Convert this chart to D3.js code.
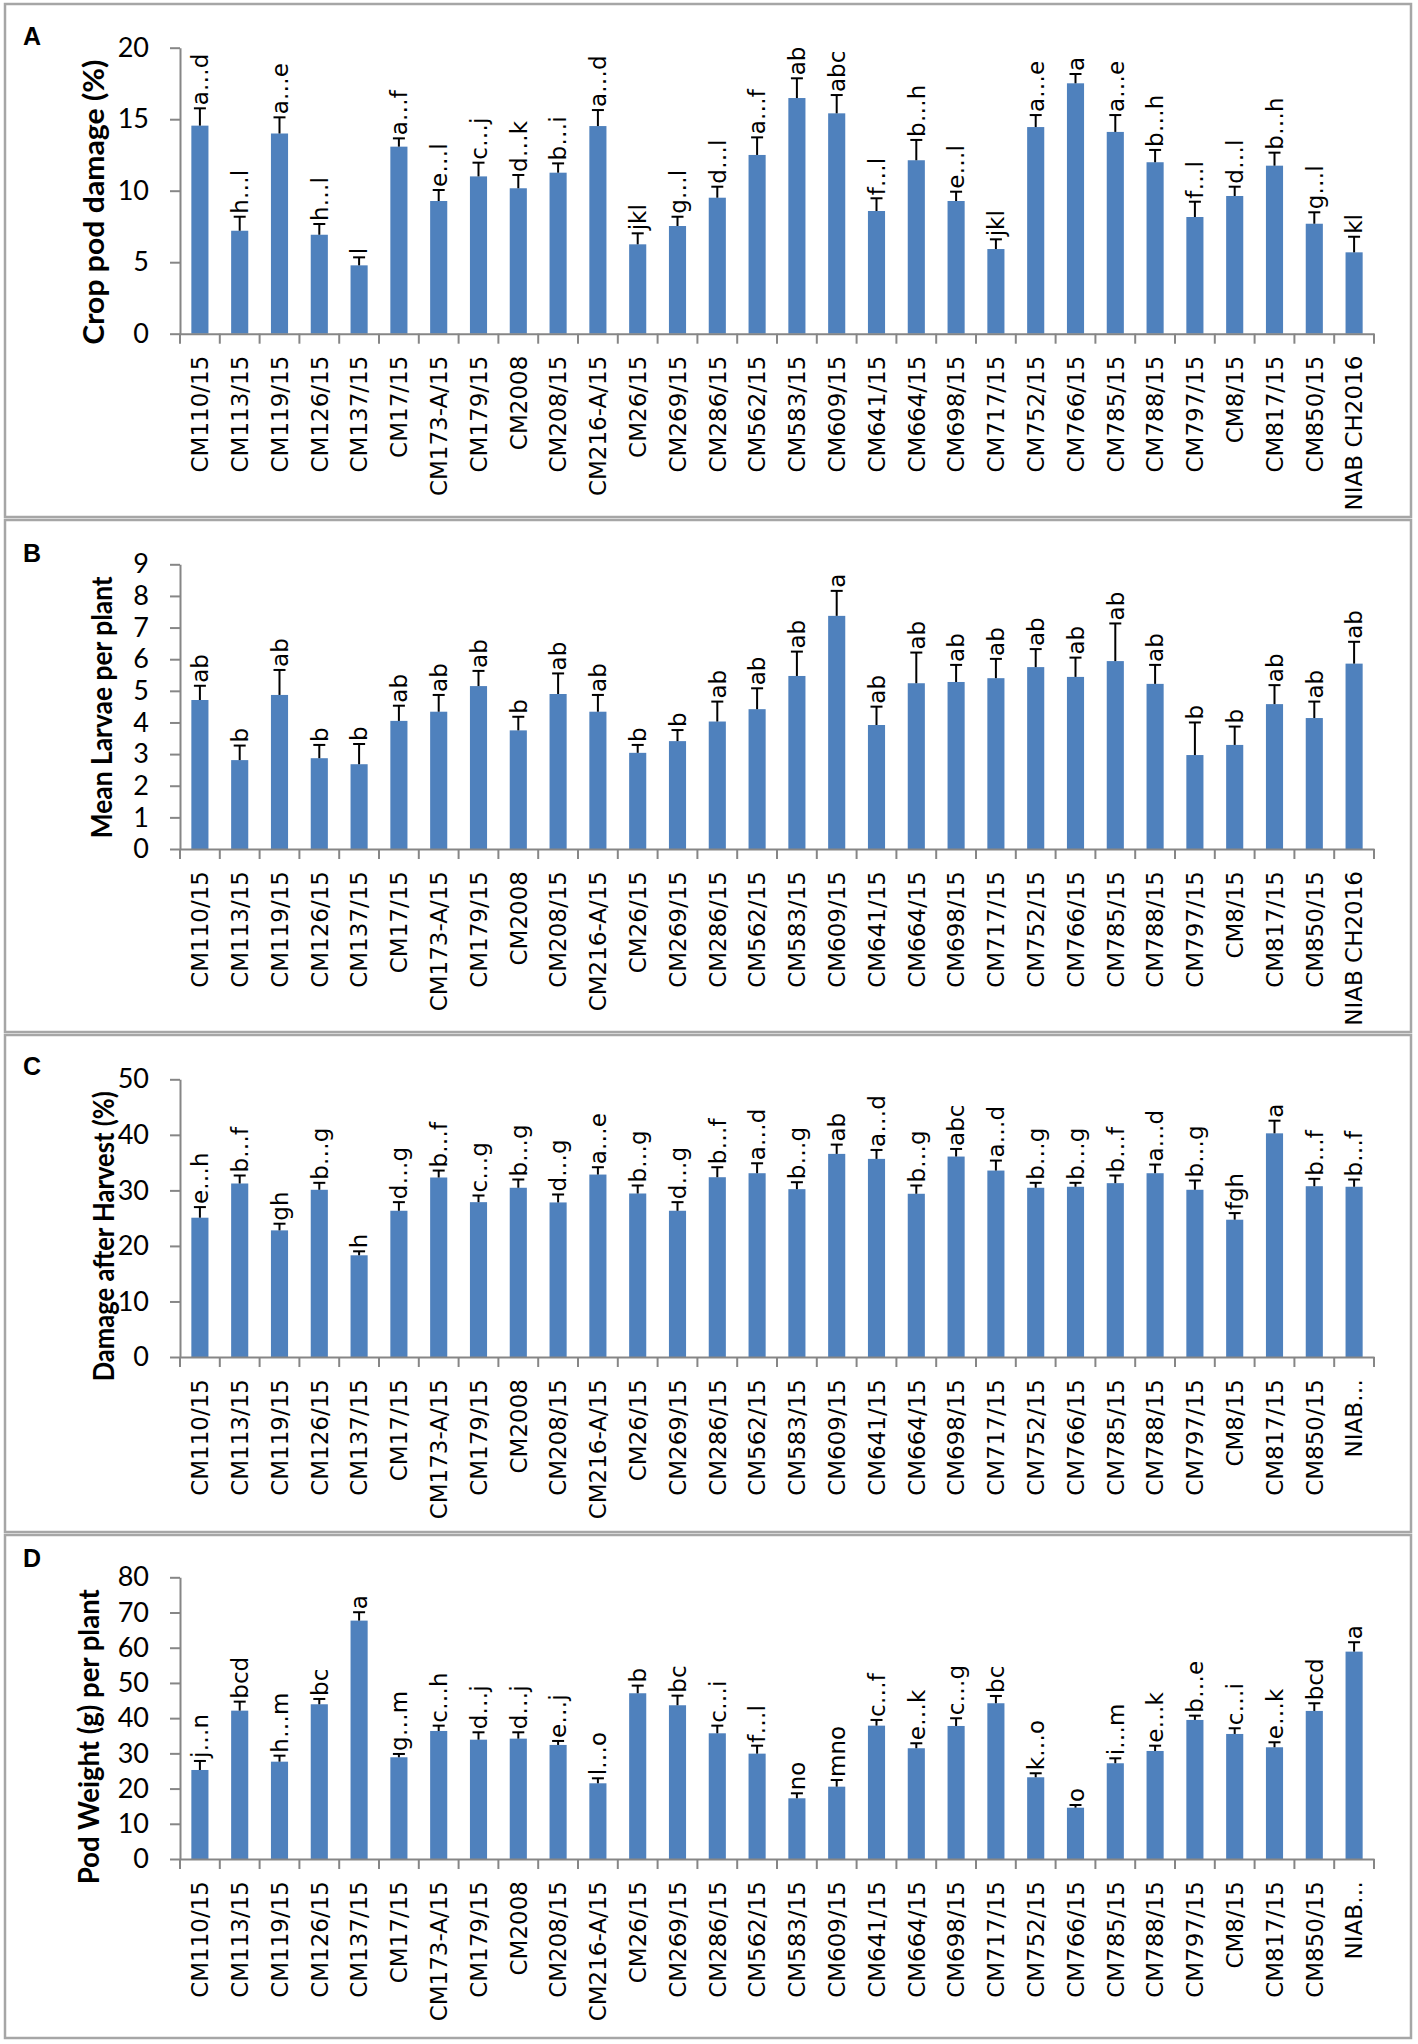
<!DOCTYPE html>
<html>
<head>
<meta charset="utf-8">
<script src="https://cdn.jsdelivr.net/npm/d3@7"></script>
<style>
  body { margin: 0; background: #fff; }
  svg { display: block; }
</style>
</head>
<body>
<script>
'use strict';

const categories = ["CM110/15", "CM113/15", "CM119/15", "CM126/15", "CM137/15", "CM17/15",
    "CM173-A/15", "CM179/15", "CM2008", "CM208/15", "CM216-A/15", "CM26/15", "CM269/15",
    "CM286/15", "CM562/15", "CM583/15", "CM609/15", "CM641/15", "CM664/15", "CM698/15",
    "CM717/15", "CM752/15", "CM766/15", "CM785/15", "CM788/15", "CM797/15", "CM8/15",
    "CM817/15", "CM850/15", "NIAB CH2016"];

// panels C and D show the last name cut short
const categoriesShort = ["CM110/15", "CM113/15", "CM119/15", "CM126/15", "CM137/15", "CM17/15",
    "CM173-A/15", "CM179/15", "CM2008", "CM208/15", "CM216-A/15", "CM26/15", "CM269/15",
    "CM286/15", "CM562/15", "CM583/15", "CM609/15", "CM641/15", "CM664/15", "CM698/15",
    "CM717/15", "CM752/15", "CM766/15", "CM785/15", "CM788/15", "CM797/15", "CM8/15",
    "CM817/15", "CM850/15", "NIAB…"];

// A - crop pod damage (%)
const podDamage = [14.55, 7.2, 14.0, 6.92, 4.78, 13.08, 9.28, 11.0, 10.17, 11.26, 14.52, 6.25, 7.53,
    9.51, 12.5, 16.48, 15.41, 8.58, 12.13, 9.28, 5.92, 14.45, 17.51, 14.11, 11.99, 8.16, 9.63,
    11.75, 7.69, 5.69];
const podDamageSE = [1.21, 0.98, 1.13, 0.75, 0.56, 0.58, 0.77, 0.96, 0.93, 0.65, 1.12, 0.77, 0.65,
    0.77, 1.23, 1.38, 1.28, 0.89, 1.42, 0.65, 0.68, 0.84, 0.65, 1.18, 0.86, 1.07, 0.65, 0.91,
    0.8, 1.09];
const podDamageLetters = ["a…d", "h…l", "a…e", "h…l", "l", "a…f", "e…l", "c…j", "d…k", "b…i",
    "a…d", "jkl", "g…l", "d…l", "a…f", "ab", "abc", "f…l", "b…h", "e…l", "jkl", "a…e", "a",
    "a…e", "b…h", "f…l", "d…l", "b…h", "g…l", "kl"];

// B - mean larvae per plant
const larvae = [4.71, 2.81, 4.87, 2.87, 2.68, 4.05, 4.34, 5.15, 3.75, 4.9, 4.34, 3.04, 3.41,
    4.03, 4.42, 5.47, 7.37, 3.92, 5.24, 5.28, 5.4, 5.75, 5.44, 5.94, 5.22, 2.97, 3.29, 4.58,
    4.14, 5.86];
const larvaeSE = [0.45, 0.46, 0.79, 0.42, 0.64, 0.48, 0.53, 0.48, 0.43, 0.65, 0.53, 0.25, 0.35,
    0.63, 0.66, 0.77, 0.79, 0.58, 0.97, 0.54, 0.61, 0.57, 0.61, 1.19, 0.6, 1.03, 0.58, 0.6,
    0.52, 0.69];
const larvaeLetters = ["ab", "b", "ab", "b", "b", "ab", "ab", "ab", "b", "ab", "ab", "b", "b",
    "ab", "ab", "ab", "a", "ab", "ab", "ab", "ab", "ab", "ab", "ab", "ab", "b", "b", "ab",
    "ab", "ab"];

// C - damage after harvest (%)
const harvestDamage = [25.08, 31.24, 22.8, 30.11, 18.31, 26.33, 32.32, 27.88, 30.47, 27.83,
    32.85, 29.44, 26.33, 32.37, 33.09, 30.22, 36.57, 35.67, 29.39, 36.09, 33.57, 30.47, 30.65,
    31.3, 33.09, 30.11, 24.72, 40.27, 30.75, 30.65];
const harvestDamageSE = [1.91, 1.44, 1.2, 1.25, 0.72, 1.55, 1.25, 1.2, 1.49, 1.43, 1.32, 1.44,
    1.55, 1.8, 1.79, 1.25, 1.67, 1.61, 1.49, 1.37, 1.8, 0.89, 0.71, 1.38, 1.56, 1.67, 1.19,
    2.28, 1.33, 1.31];
const harvestDamageLetters = ["e…h", "b…f", "gh", "b…g", "h", "d…g", "b…f", "c…g", "b…g",
    "d…g", "a…e", "b…g", "d…g", "b…f", "a…d", "b…g", "ab", "a…d", "b…g", "abc", "a…d", "b…g",
    "b…g", "b…f", "a…d", "b…g", "fgh", "a", "b…f", "b…f"];

// D - pod weight (g) per plant
const podWeight = [25.28, 42.13, 27.64, 43.94, 67.7, 28.89, 36.36, 33.89, 34.18, 32.39, 21.5,
    47.07, 43.66, 35.7, 29.92, 17.24, 20.54, 37.87, 31.45, 37.78, 44.23, 23.21, 14.57, 27.19,
    30.68, 39.49, 35.51, 31.73, 42.05, 58.89];
const podWeightSE = [2.56, 2.56, 1.71, 1.51, 2.38, 0.94, 1.51, 2.09, 1.8, 1.13, 1.42, 2.17,
    2.73, 2.17, 2.26, 1.42, 1.9, 1.62, 1.42, 2.19, 2.07, 1.14, 0.77, 1.41, 1.5, 1.22, 1.62,
    1.42, 2.18, 2.67];
const podWeightLetters = ["j…n", "bcd", "h…m", "bc", "a", "g…m", "c…h", "d…j", "d…j", "e…j",
    "l…o", "b", "bc", "c…i", "f…l", "no", "mno", "c…f", "e…k", "c…g", "bc", "k…o", "o", "i…m",
    "e…k", "b…e", "c…i", "e…k", "bcd", "a"];

const panelLetters = ["A", "B", "C", "D"];
const axisTitles = ["Crop pod damage (%)", "Mean Larvae per plant", "Damage after Harvest (%)",
    "Pod Weight (g) per plant"];
const yMaxima = [20, 9, 50, 80];
const yTickSteps = [5, 1, 10, 10];

const WIDTH = 1418, HEIGHT = 2044,
    BAR_COLOR = "#4f81bd",
    AXIS_COLOR = "#868686",
    FRAME_COLOR = "#a6a6a6",
    X_LEFT = 180, X_RIGHT = 1374;

// layout of each panel box (pixels); titleLen = length the axis title is squeezed to
const layout = [
    { top: 4, bottom: 517, plotTop: 47.7, zero: 333.7, letterY: 45, titleX: 104, titleLen: 285 },
    { top: 520, bottom: 1032, plotTop: 564.3, zero: 849, letterY: 562, titleX: 112, titleLen: 262 },
    { top: 1035, bottom: 1532, plotTop: 1079.3, zero: 1357, letterY: 1075, titleX: 114, titleLen: 290 },
    { top: 1535, bottom: 2038, plotTop: 1577.3, zero: 1859, letterY: 1567, titleX: 99, titleLen: 295 }
];

const series = [
    { values: podDamage, se: podDamageSE, letters: podDamageLetters, names: categories },
    { values: larvae, se: larvaeSE, letters: larvaeLetters, names: categories },
    { values: harvestDamage, se: harvestDamageSE, letters: harvestDamageLetters, names: categoriesShort },
    { values: podWeight, se: podWeightSE, letters: podWeightLetters, names: categoriesShort }
];

let svg = d3.select("body")
    .append("svg")
    .attr("width", WIDTH)
    .attr("height", HEIGHT)
    .attr("viewBox", "0 0 " + WIDTH + " " + HEIGHT);

let x = d3.scaleBand()
    .domain(categories)
    .range([X_LEFT, X_RIGHT])
    .paddingInner(0.57)
    .paddingOuter(0.285);

let gapHalf = (x.step() - x.bandwidth()) / 2;

series.forEach((s, p) => {
    let L = layout[p];
    let g = svg.append("g");

    // frame
    g.append("rect")
        .attr("x", 5)
        .attr("y", L.top)
        .attr("width", 1406)
        .attr("height", L.bottom - L.top)
        .attr("fill", "none")
        .attr("stroke", FRAME_COLOR)
        .attr("stroke-width", 2.5);

    g.append("text")
        .attr("x", 23)
        .attr("y", L.letterY)
        .attr("font-family", "Liberation Sans, Arial, sans-serif")
        .attr("font-weight", "bold")
        .attr("font-size", 25)
        .text(panelLetters[p]);

    let y = d3.scaleLinear()
        .domain([0, yMaxima[p]])
        .range([L.zero, L.plotTop]);

    // y axis
    let yAxis = g.append("g")
        .attr("transform", "translate(" + X_LEFT + ",0)")
        .call(d3.axisLeft(y)
            .tickValues(d3.range(0, yMaxima[p] + 0.001, yTickSteps[p]))
            .tickSize(10)
            .tickPadding(21)
            .tickSizeOuter(0));
    yAxis.selectAll("path, line").attr("stroke", AXIS_COLOR).attr("stroke-width", 2);
    yAxis.selectAll("text")
        .attr("font-family", "Lato, sans-serif")
        .attr("font-size", 27)
        .attr("fill", "#000");

    // axis title: its top sits a little under the highest tick
    g.append("text")
        .attr("transform", "translate(" + L.titleX + "," + (L.plotTop + 12) + ") rotate(-90)")
        .attr("text-anchor", "end")
        .attr("font-family", "Lato, sans-serif")
        .attr("font-weight", "bold")
        .attr("font-size", 29)
        .attr("textLength", L.titleLen)
        .attr("lengthAdjust", "spacingAndGlyphs")
        .text(axisTitles[p]);

    // bars
    g.selectAll("rect.bar")
        .data(s.values)
        .enter()
        .append("rect")
        .attr("class", "bar")
        .attr("x", (d, i) => x(categories[i]))
        .attr("y", d => y(d))
        .attr("width", x.bandwidth())
        .attr("height", d => y(0) - y(d))
        .attr("fill", BAR_COLOR);

    // plus error bars
    let err = g.selectAll("g.err")
        .data(s.values)
        .enter()
        .append("g")
        .attr("class", "err")
        .attr("stroke", "#000")
        .attr("stroke-width", 2);
    err.append("line")
        .attr("x1", (d, i) => x(categories[i]) + x.bandwidth() / 2)
        .attr("x2", (d, i) => x(categories[i]) + x.bandwidth() / 2)
        .attr("y1", d => y(d))
        .attr("y2", (d, i) => y(d + s.se[i]));
    err.append("line")
        .attr("x1", (d, i) => x(categories[i]) + x.bandwidth() / 2 - 6)
        .attr("x2", (d, i) => x(categories[i]) + x.bandwidth() / 2 + 6)
        .attr("y1", (d, i) => y(d + s.se[i]))
        .attr("y2", (d, i) => y(d + s.se[i]));

    // significance letters
    g.selectAll("text.letter")
        .data(s.values)
        .enter()
        .append("text")
        .attr("class", "letter")
        .attr("transform", (d, i) => "translate(" + (x(categories[i]) + x.bandwidth() / 2) + ","
            + (y(d + s.se[i]) - 3) + ") rotate(-90)")
        .attr("dy", "0.36em")
        .attr("font-family", "DejaVu Sans, Verdana, sans-serif")
        .attr("font-size", 23)
        .text((d, i) => s.letters[i]);

    // x axis
    let xAxis = g.append("g")
        .attr("transform", "translate(0," + L.zero + ")")
        .call(d3.axisBottom(x).tickSize(0).tickPadding(0).tickFormat((c, i) => s.names[i]));
    xAxis.select("path").attr("stroke", AXIS_COLOR).attr("stroke-width", 2);
    xAxis.selectAll(".tick text")
        .attr("transform", "translate(0,22) rotate(-90)")
        .attr("text-anchor", "end")
        .attr("x", 0)
        .attr("y", 0)
        .attr("dy", "0.36em")
        .attr("font-family", "DejaVu Sans, Verdana, sans-serif")
        .attr("font-size", 23)
        .attr("fill", "#000");

    // tick marks sit between the categories
    xAxis.selectAll("line.sep")
        .data(categories.concat(["end"]))
        .enter()
        .append("line")
        .attr("class", "sep")
        .attr("x1", (c, i) => i < categories.length ? x(c) - gapHalf : x(categories[i - 1]) + x.bandwidth() + gapHalf)
        .attr("x2", (c, i) => i < categories.length ? x(c) - gapHalf : x(categories[i - 1]) + x.bandwidth() + gapHalf)
        .attr("y1", 0)
        .attr("y2", 10)
        .attr("stroke", AXIS_COLOR)
        .attr("stroke-width", 2);
});
</script>
</body>
</html>
